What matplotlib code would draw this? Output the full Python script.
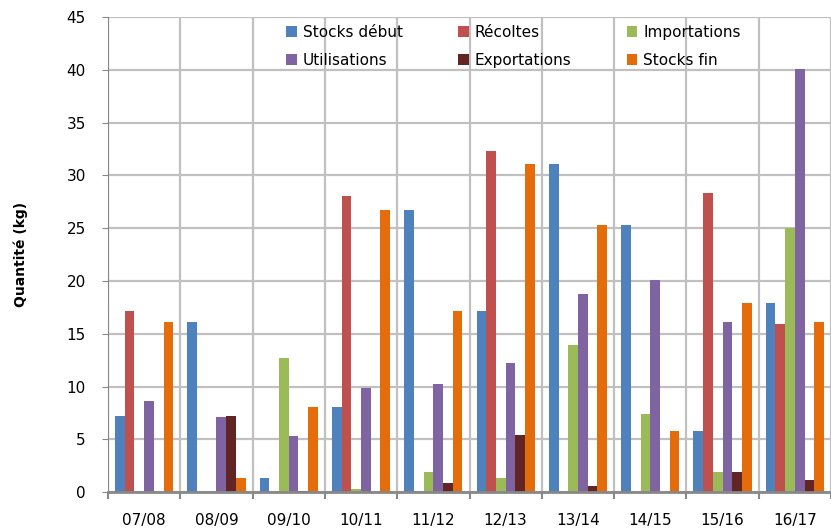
import matplotlib.pyplot as plt
import numpy as np

campagnes = ["07/08", "08/09", "09/10", "10/11", "11/12", "12/13", "13/14", "14/15", "15/16", "16/17"]
stocks_debut = [7.2, 16.1, 1.35, 8.1, 26.7, 17.2, 31.05, 25.3, 5.8, 17.9]
recoltes = [17.2, 0, 0, 28.0, 0, 32.3, 0, 0, 28.3, 15.9]
importations = [0, 0, 12.7, 0.3, 1.9, 1.35, 13.9, 7.4, 1.9, 25.0]
utilisations = [8.65, 7.15, 5.3, 9.85, 10.2, 12.2, 18.75, 20.05, 16.15, 40.05]
exportations = [0, 7.2, 0.15, 0, 0.9, 5.45, 0.6, 0, 1.9, 1.15]
stocks_fin = [16.1, 1.35, 8.1, 26.7, 17.2, 31.05, 25.3, 5.8, 17.9, 16.15]

series = [
    ("Stocks début", stocks_debut, "#4F81BD"),
    ("Récoltes", recoltes, "#C0504D"),
    ("Importations", importations, "#9BBB59"),
    ("Utilisations", utilisations, "#8064A2"),
    ("Exportations", exportations, "#632523"),
    ("Stocks fin", stocks_fin, "#E46C0A"),
]

fig = plt.figure(figsize=(8.31, 5.32), dpi=100)
ax = fig.add_axes([0.13, 0.075, 0.87, 0.893])

x = np.arange(len(campagnes))
w = 0.134
handles = []
for j, (name, vals, col) in enumerate(series):
    b = ax.bar(x + (j - 2.5) * w, vals, w, color=col, label=name, zorder=2)
    handles.append(b)

ax.set_xlim(-0.5, 9.364)
ax.set_ylim(0, 45)
ax.set_yticks(np.arange(0, 46, 5))
ax.set_xticks(x)
ax.set_xticklabels(campagnes, fontsize=11)
ax.set_xticks(np.arange(-0.5, 10, 1), minor=True)
ax.tick_params(axis="x", which="major", length=0, pad=15)
ax.tick_params(axis="x", which="minor", length=5, width=1.5, color="#888888")
ax.tick_params(axis="y", length=4, color="#888888", labelsize=11, pad=12)

ax.grid(axis="y", color="#c0c0c0", linewidth=1.6, zorder=0)
ax.grid(axis="x", which="minor", color="#c0c0c0", linewidth=1.6, zorder=0)
ax.set_axisbelow(True)

for s in ["top", "right"]:
    ax.spines[s].set_visible(False)
ax.spines["left"].set_color("#888888")
ax.spines["bottom"].set_color("#888888")
ax.spines["bottom"].set_linewidth(2)

ax.set_ylabel("Quantité (kg)", fontsize=10, fontweight="bold", labelpad=28)

# ordre pour remplir la legende par lignes (3 colonnes)
order = [0, 3, 1, 4, 2, 5]
ax.legend([handles[i] for i in order], [series[i][0] for i in order],
          ncol=3, frameon=False, fontsize=11, loc="upper left",
          bbox_to_anchor=(0.2275, 1.012), handlelength=0.7, handleheight=0.7,
          handletextpad=0.4, columnspacing=3.6, labelspacing=0.85)

fig.savefig("out.png", dpi=100)
